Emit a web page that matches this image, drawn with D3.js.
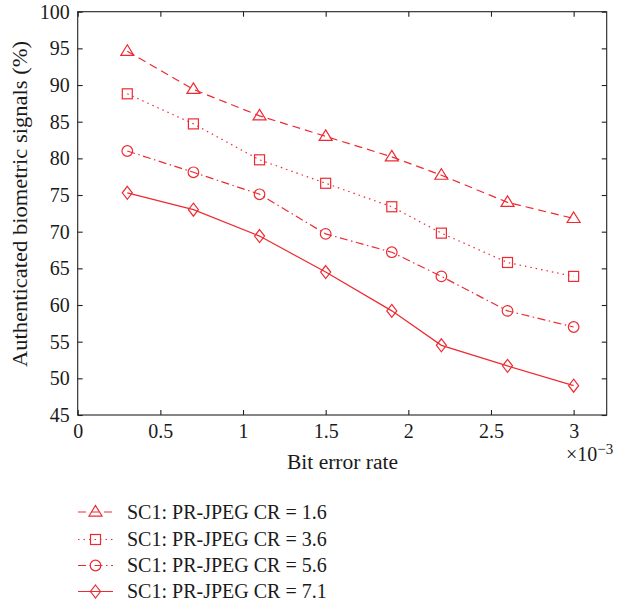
<!DOCTYPE html>
<html>
<head>
<meta charset="utf-8">
<script src="https://cdn.jsdelivr.net/npm/d3@7"></script>
<style>
  html, body { margin: 0; padding: 0; background: #fff; }
  svg { display: block; }
  text { font-family: "Liberation Serif", "DejaVu Serif", serif; fill: #1a1a1a; }
</style>
</head>
<body>
<svg id="chart" width="622" height="606"></svg>
<script>
// Bit error rate (×10^-3) at which each scheme was evaluated
const berValues = [0.3, 0.7, 1.1, 1.5, 1.9, 2.2, 2.6, 3.0];

// Authenticated biometric signals (%) per compression ratio
const cr16 = [94.6, 89.4, 85.8, 83.0, 80.2, 77.7, 74.0, 71.8];
const cr36 = [88.8, 84.7, 79.8, 76.6, 73.4, 69.8, 65.8, 63.9];
const cr56 = [81.0, 78.1, 75.1, 69.7, 67.2, 63.9, 59.2, 57.0];
const cr71 = [75.3, 73.0, 69.4, 64.5, 59.2, 54.5, 51.7, 49.0];

const seriesNames = [
  "SC1: PR-JPEG CR = 1.6",
  "SC1: PR-JPEG CR = 3.6",
  "SC1: PR-JPEG CR = 5.6",
  "SC1: PR-JPEG CR = 7.1"
];

const xTicks = [0, 0.5, 1, 1.5, 2, 2.5, 3];
const yTicks = [45, 50, 55, 60, 65, 70, 75, 80, 85, 90, 95, 100];

const red = "#ee2a31";
const styles = [
  { values: cr16, dash: "8,5",           marker: "triangle" },
  { values: cr36, dash: "1.5,4",         marker: "square" },
  { values: cr56, dash: "8,3.5,1.5,3.5", marker: "circle" },
  { values: cr71, dash: null,            marker: "diamond" }
];

const svg = d3.select("#chart");
const plot = { left: 77.7, right: 606.7, top: 11.7, bottom: 415 };
const fontSize = 20;

const x = d3.scaleLinear().domain([0, 3.2]).range([plot.left, plot.right]);
const y = d3.scaleLinear().domain([45, 100]).range([plot.bottom, plot.top]);

// Frame with inward ticks on all four sides
const axisColor = "#222";
const tickLen = 5;
const gAxes = svg.append("g");

gAxes.append("g")
  .attr("transform", `translate(0,${plot.bottom})`)
  .call(d3.axisBottom(x).tickValues(xTicks).tickSizeInner(-tickLen).tickSizeOuter(0).tickPadding(9).tickFormat(d3.format("")));
gAxes.append("g")
  .attr("transform", `translate(0,${plot.top})`)
  .call(d3.axisTop(x).tickValues(xTicks).tickSizeInner(-tickLen).tickSizeOuter(0).tickFormat(""));
gAxes.append("g")
  .attr("transform", `translate(${plot.left},0)`)
  .call(d3.axisLeft(y).tickValues(yTicks).tickSizeInner(-tickLen).tickSizeOuter(0).tickPadding(8).tickFormat(d3.format("")));
gAxes.append("g")
  .attr("transform", `translate(${plot.right},0)`)
  .call(d3.axisRight(y).tickValues(yTicks).tickSizeInner(-tickLen).tickSizeOuter(0).tickFormat(""));

gAxes.selectAll(".domain").remove();
gAxes.selectAll(".tick line").attr("stroke", axisColor).attr("stroke-width", 1.1);
gAxes.selectAll(".tick text").attr("font-size", fontSize).attr("font-family", "Liberation Serif, serif").attr("fill", "#1a1a1a");

gAxes.append("rect")
  .attr("x", plot.left).attr("y", plot.top)
  .attr("width", plot.right - plot.left).attr("height", plot.bottom - plot.top)
  .attr("fill", "none").attr("stroke", axisColor).attr("stroke-width", 1.1);

// Marker shapes
function drawMarker(g, type, cx, cy) {
  const common = sel => sel.attr("fill", "none").attr("stroke", red).attr("stroke-width", 1.2);
  if (type === "triangle") {
    const s = 6.5;
    g.append("path").call(common)
      .attr("d", `M${cx},${cy - s} L${cx + s},${cy + s * 0.62} L${cx - s},${cy + s * 0.62} Z`);
  } else if (type === "square") {
    const s = 5;
    g.append("rect").call(common)
      .attr("x", cx - s).attr("y", cy - s).attr("width", 2 * s).attr("height", 2 * s);
  } else if (type === "circle") {
    g.append("circle").call(common).attr("cx", cx).attr("cy", cy).attr("r", 5.3);
  } else {
    const w = 5, h = 6.5;
    g.append("path").call(common)
      .attr("d", `M${cx},${cy - h} L${cx + w},${cy} L${cx},${cy + h} L${cx - w},${cy} Z`);
  }
}

const line = d3.line().x(d => x(d[0])).y(d => y(d[1]));

styles.forEach(s => {
  const pts = berValues.map((b, i) => [b, s.values[i]]);
  const g = svg.append("g");
  g.append("path")
    .datum(pts)
    .attr("d", line)
    .attr("fill", "none")
    .attr("stroke", red)
    .attr("stroke-width", 1.2)
    .attr("stroke-dasharray", s.dash);
  pts.forEach(p => drawMarker(g, s.marker, x(p[0]), y(p[1])));
});

// Axis titles
svg.append("text")
  .attr("x", 287).attr("y", 469)
  .attr("font-size", fontSize)
  .attr("textLength", 111).attr("lengthAdjust", "spacingAndGlyphs")
  .text("Bit error rate");

const expo = svg.append("text").attr("x", 566).attr("y", 461).attr("font-size", fontSize);
expo.append("tspan").text("×10");
expo.append("tspan").attr("dy", -7).attr("font-size", 15).text("−3");

svg.append("text")
  .attr("transform", `translate(27,367) rotate(-90)`)
  .attr("font-size", fontSize)
  .attr("textLength", 326).attr("lengthAdjust", "spacingAndGlyphs")
  .text("Authenticated biometric signals (%)");

// Legend
const legendY = [512, 539.5, 565.5, 591.5];
const legend = svg.append("g");
styles.forEach((s, i) => {
  const ly = legendY[i];
  const g = legend.append("g");
  g.append("line")
    .attr("x1", 78).attr("x2", 113).attr("y1", ly).attr("y2", ly)
    .attr("stroke", red).attr("stroke-width", 1.2)
    .attr("stroke-dasharray", s.dash);
  drawMarker(g, s.marker, 95.5, ly);
  g.append("text")
    .attr("x", 127).attr("y", ly + 6.5)
    .attr("font-size", fontSize)
    .text(seriesNames[i]);
});
</script>
</body>
</html>
